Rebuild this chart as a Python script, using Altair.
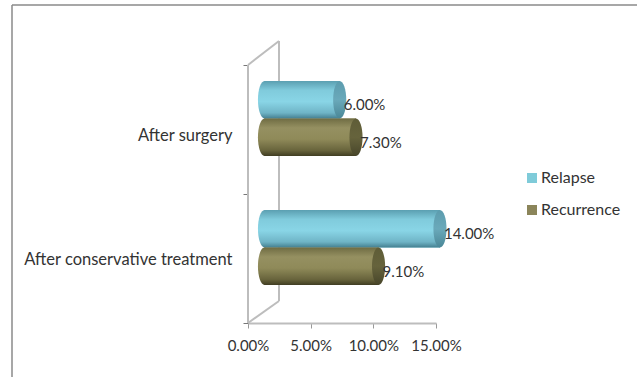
import altair as alt
import pandas as pd

# Share of patients by treatment path and outcome
categories = ["After surgery", "After conservative treatment"]
series = ["Relapse", "Recurrence"]
relapse = [0.06, 0.14]
recurrence = [0.073, 0.091]
x_ticks = [0, 0.05, 0.10, 0.15]

FONT = "Lato"
INK = "#333333"
WALL = "#bdbdbd"

rows = []
for i, cat in enumerate(categories):
    rows.append({"category": cat, "series": "Relapse", "value": relapse[i], "zero": 0})
    rows.append({"category": cat, "series": "Recurrence", "value": recurrence[i], "zero": 0})
df = pd.DataFrame(rows)

x_scale = alt.Scale(domain=[0, 0.15], nice=False)
y_enc = alt.Y(
    "category:N",
    sort=categories,
    title=None,
    scale=alt.Scale(paddingInner=0, paddingOuter=0),
    axis=alt.Axis(
        tickBand="extent",
        domain=False,
        tickColor="#777777",
        tickSize=5,
        labelPadding=11,
        labelFont=FONT,
        labelFontSize=16.5,
        labelColor=INK,
        labelLimit=260,
        labelOffset=alt.expr("datum.value == 'After surgery' ? 6 : 1"),
    ),
)
x_enc = alt.X(
    "value:Q",
    scale=x_scale,
    title=None,
    axis=alt.Axis(
        values=x_ticks,
        format=".2%",
        grid=False,
        domainColor=WALL,
        domainWidth=2,
        tickColor="#999999",
        tickSize=5,
        labelPadding=10,
        labelFont=FONT,
        labelFontSize=15,
        labelColor=INK,
        labelFlush=False,
    ),
)
# Bars sit a little above the band centre, towards the back of the 3D box
offset_enc = alt.YOffset(
    "series:N", sort=series, scale=alt.Scale(range=[16, 91], paddingOuter=0, paddingInner=0)
)
color_enc = alt.Color(
    "series:N",
    sort=series,
    scale=alt.Scale(domain=series, range=["#7fcbd9", "#8b855a"]),
    legend=alt.Legend(
        title=None,
        orient="none",
        legendX=276,
        legendY=105,
        symbolType="square",
        symbolSize=100,
        symbolStrokeWidth=0,
        rowPadding=16,
        labelFont=FONT,
        labelFontSize=16,
        labelColor=INK,
        labelOffset=1,
    ),
)


def linear(stops):
    return alt.Gradient(
        gradient="linear",
        x1=0, x2=0, y1=0, y2=1,
        stops=[alt.GradientStop(offset=o, color=c) for o, c in stops],
    )


body_fill = {
    "Relapse": linear([(0, "#5b9fb1"), (0.25, "#80cbdc"), (0.55, "#89d5e6"), (0.85, "#6fb4c6"), (1, "#447f90")]),
    "Recurrence": linear([(0, "#6f6c43"), (0.25, "#959061"), (0.55, "#8f8a59"), (0.85, "#68643c"), (1, "#403d22")]),
}
cap_fill = {
    "Relapse": linear([(0, "#5c9cae"), (0.5, "#6aa9ba"), (1, "#4a8797")]),
    "Recurrence": linear([(0, "#5f5d38"), (0.5, "#66633c"), (1, "#47452a")]),
}

SHIFT_X = 16.5
CAP = "M0,-1 A0.35,1 0 1 1 0,1 A0.35,1 0 1 1 0,-1 Z"
CAP_SIZE = 1406


def frame_line(x, x2, y, y2, color=WALL, width=2):
    return (
        alt.Chart(pd.DataFrame({"a": [0]}))
        .mark_rule(color=color, strokeWidth=width)
        .encode(x=alt.value(x), x2=alt.value(x2), y=alt.value(y), y2=alt.value(y2))
    )


layers = [
    # Page border
    frame_line(-236, 389, -60, -60, "#8a8a8a", 1.5),
    frame_line(-236, -236, -60, 312, "#8a8a8a", 1.5),
    # Side and back walls of the 3D box
    frame_line(0, 0, 0, 258),
    frame_line(31, 31, -24, 236),
    frame_line(0, 31, 0, -24),
    frame_line(0, 31, 258, 236),
    # Base bars carry the colour legend
    alt.Chart(df)
    .mark_bar(xOffset=SHIFT_X, x2Offset=SHIFT_X)
    .encode(x=x_enc, x2="zero:Q", y=y_enc, yOffset=offset_enc, color=color_enc),
]

for name in series:
    subset = df[df["series"] == name]
    enc = dict(y=y_enc, yOffset=offset_enc)
    layers += [
        alt.Chart(subset)
        .mark_point(filled=True, opacity=1, strokeWidth=0, shape=CAP, size=CAP_SIZE,
                    fill=body_fill[name], xOffset=SHIFT_X)
        .encode(x=alt.X("zero:Q", scale=x_scale), **enc),
        alt.Chart(subset)
        .mark_bar(fill=body_fill[name], xOffset=SHIFT_X, x2Offset=SHIFT_X)
        .encode(x=alt.X("value:Q", scale=x_scale), x2="zero:Q", **enc),
        alt.Chart(subset)
        .mark_point(filled=True, opacity=1, strokeWidth=0, shape=CAP, size=CAP_SIZE,
                    fill=cap_fill[name], xOffset=SHIFT_X)
        .encode(x=alt.X("value:Q", scale=x_scale), **enc),
    ]

layers.append(
    alt.Chart(df)
    .mark_text(align="left", baseline="middle", dx=20.5, dy=5.5, font=FONT, fontSize=15, color=INK)
    .encode(
        x=alt.X("value:Q", scale=x_scale),
        y=y_enc,
        yOffset=offset_enc,
        text=alt.Text("value:Q", format=".2%"),
    )
)

chart = (
    alt.layer(*layers)
    .properties(
        width=188,
        height=258,
        background="white",
        padding={"left": 248, "top": 65, "right": 201, "bottom": 54},
        autosize=alt.AutoSizeParams(type="none"),
    )
    .configure_view(stroke=None)
)

chart.save("out.html", embed_options={"renderer": "svg", "actions": False})
